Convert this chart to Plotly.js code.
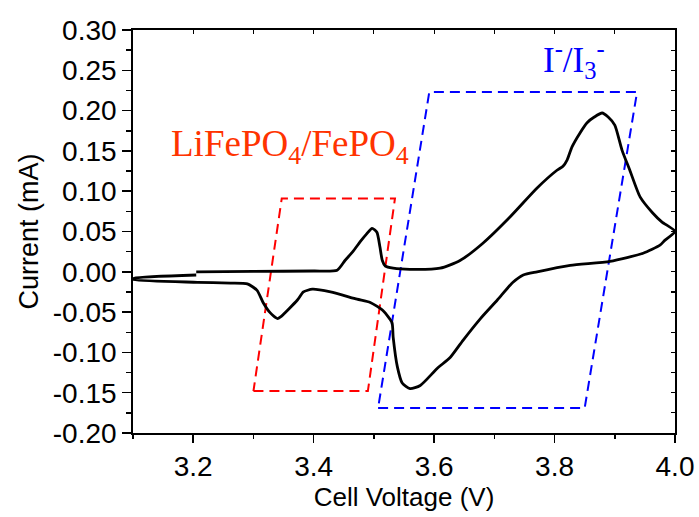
<!DOCTYPE html>
<html>
<head>
<meta charset="utf-8">
<script src="https://cdn.plot.ly/plotly-3.0.1.min.js"></script>
<style>html,body{margin:0;padding:0;background:#fff;}#chart{width:699px;height:517px;}</style>
</head>
<body>
<div id="chart"></div>
<script>
// Cyclic voltammogram (Cell Voltage in V, Current in mA)
const cvVoltage = [
  3.205, 3.300, 3.400, 3.439, 3.452, 3.465, 3.477, 3.488, 3.497, 3.505, 3.510, 3.514, 3.519, 3.532, 3.560,
  3.610, 3.643, 3.681, 3.726, 3.771, 3.804, 3.814, 3.821, 3.829, 3.842, 3.854, 3.866, 3.879, 3.889, 3.900,
  3.912, 3.925, 3.942, 3.963, 3.978, 4.000,
  3.983, 3.975, 3.947, 3.892, 3.826, 3.771, 3.748, 3.731, 3.705, 3.677, 3.648, 3.627, 3.605, 3.577, 3.560,
  3.547, 3.539, 3.532, 3.530, 3.515, 3.494, 3.472, 3.428, 3.398, 3.383, 3.373, 3.345, 3.340, 3.328, 3.316,
  3.306, 3.290, 3.262, 3.207, 3.100,
  3.100, 3.205
];
const cvCurrent = [
  0.000, 0.0005, 0.001, 0.002, 0.014, 0.025, 0.037, 0.047, 0.054, 0.049, 0.031, 0.014, 0.007, 0.0045, 0.003,
  0.0045, 0.014, 0.0355, 0.068, 0.104, 0.126, 0.131, 0.139, 0.155, 0.172, 0.185, 0.192, 0.197, 0.192, 0.182,
  0.151, 0.126, 0.093, 0.073, 0.062, 0.050,
  0.039, 0.033, 0.023, 0.013, 0.008, 0.000, -0.004, -0.013, -0.035, -0.058, -0.085, -0.106, -0.120, -0.141, -0.145,
  -0.138, -0.118, -0.081, -0.063, -0.048, -0.038, -0.034, -0.025, -0.0216, -0.025, -0.035, -0.056, -0.058, -0.051, -0.038,
  -0.023, -0.015, -0.014, -0.013, -0.0096,
  -0.0083, -0.004
];
// LiFePO4/FePO4 region (dashed red parallelogram)
const lfpBoxVoltage = [3.300, 3.490, 3.535, 3.347, 3.300];
const lfpBoxCurrent = [-0.148, -0.148, 0.091, 0.091, -0.148];
// I-/I3- region (dashed blue parallelogram)
const iodBoxVoltage = [3.507, 3.850, 3.937, 3.592, 3.507];
const iodBoxCurrent = [-0.169, -0.169, 0.223, 0.223, -0.169];
// Axis ticks
const xTickVals = [3.2, 3.4, 3.6, 3.8, 4.0];
const xTickText = ['3.2', '3.4', '3.6', '3.8', '4.0'];
const yTickVals = [0.30, 0.25, 0.20, 0.15, 0.10, 0.05, 0.00, -0.05, -0.10, -0.15, -0.20];
const yTickText = ['0.30', '0.25', '0.20', '0.15', '0.10', '0.05', '0.00', '-0.05', '-0.10', '-0.15', '-0.20'];

const sans = 'Liberation Sans, Arial, sans-serif';
const serif = 'Liberation Serif, Times New Roman, serif';

const traces = [
  {x: lfpBoxVoltage, y: lfpBoxCurrent, mode: 'lines', line: {color: '#ff0000', width: 2, dash: '10px,6px'}, hoverinfo: 'skip', showlegend: false},
  {x: iodBoxVoltage, y: iodBoxCurrent, mode: 'lines', line: {color: '#0000ff', width: 2, dash: '10px,6px'}, hoverinfo: 'skip', showlegend: false},
  {x: cvVoltage, y: cvCurrent, mode: 'lines', line: {color: '#000000', width: 2.8, shape: 'spline', smoothing: 0.6}, showlegend: false},
  {x: cvVoltage, y: cvCurrent, xaxis: 'x2', yaxis: 'y2', mode: 'lines', opacity: 0, line: {width: 0}, hoverinfo: 'skip', showlegend: false}
];

const layout = {
  width: 699, height: 517,
  margin: {l: 133, r: 24, t: 30, b: 84, pad: 0},
  paper_bgcolor: '#ffffff', plot_bgcolor: '#ffffff',
  font: {family: sans, color: '#000000', size: 28},
  xaxis: {
    range: [3.1, 4.0], tickmode: 'array', tickvals: xTickVals, ticktext: xTickText,
    ticks: 'outside', ticklen: 8, tickwidth: 1.5, tickcolor: '#000',
    minor: {ticks: 'outside', ticklen: 4, tickwidth: 1.5, tickcolor: '#000', dtick: 0.1, tick0: 3.1},
    showline: true, linewidth: 1.8, linecolor: '#000', showgrid: false, zeroline: false,
    tickfont: {family: sans, size: 28, color: '#000'},
    title: {text: 'Cell Voltage (V)', font: {family: sans, size: 26, color: '#000'}, standoff: 6}
  },
  yaxis: {
    range: [-0.2, 0.3], tickmode: 'array', tickvals: yTickVals, ticktext: yTickText,
    ticks: 'outside', ticklen: 9, tickwidth: 1.5, tickcolor: '#000',
    minor: {ticks: 'outside', ticklen: 5, tickwidth: 1.5, tickcolor: '#000', dtick: 0.025, tick0: 0},
    showline: true, linewidth: 1.8, linecolor: '#000', showgrid: false, zeroline: false,
    tickfont: {family: sans, size: 28, color: '#000'},
    title: {text: 'Current (mA)', font: {family: sans, size: 27, color: '#000'}, standoff: 6}
  },
  xaxis2: {
    overlaying: 'x', side: 'top', anchor: 'y2', range: [3.1, 4.0], dtick: 0.1, tick0: 3.1,
    ticks: 'inside', ticklen: 4, tickwidth: 1.2, tickcolor: '#000', showticklabels: false,
    showline: true, linewidth: 1.8, linecolor: '#000', showgrid: false, zeroline: false
  },
  yaxis2: {
    overlaying: 'y', side: 'right', anchor: 'x2', range: [-0.2, 0.3], dtick: 0.025, tick0: 0,
    ticks: 'inside', ticklen: 4, tickwidth: 1.2, tickcolor: '#000', showticklabels: false,
    showline: true, linewidth: 1.8, linecolor: '#000', showgrid: false, zeroline: false
  },
  annotations: [
    {text: 'LiFePO<sub>4</sub>/FePO<sub>4</sub>', x: 3.361, y: 0.156, xref: 'x', yref: 'y', showarrow: false,
     font: {family: serif, size: 37, color: '#ff3300'}},
    {text: 'I<sup>-</sup>/I<sub>3</sub><sup>-</sup>', x: 3.833, y: 0.263, xref: 'x', yref: 'y', showarrow: false,
     font: {family: serif, size: 35, color: '#0000ff'}}
  ]
};

Plotly.newPlot('chart', traces, layout, {staticPlot: true, displayModeBar: false});
</script>
</body>
</html>
